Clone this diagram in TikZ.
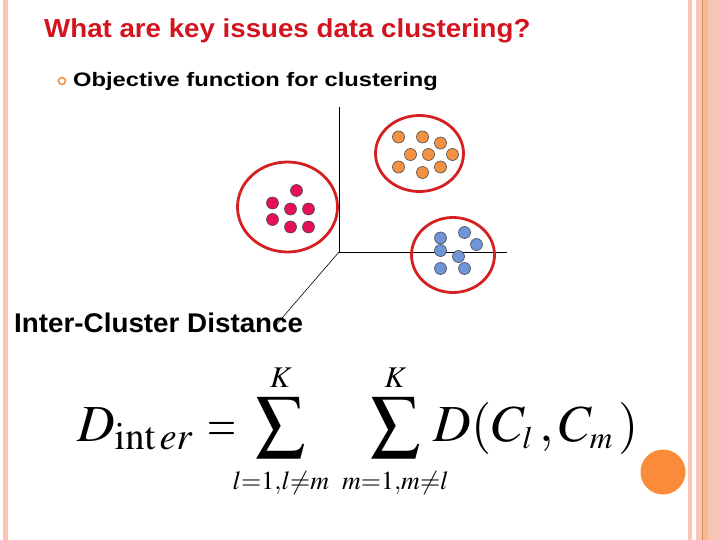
\documentclass[tikz,border=0pt]{standalone}
\usepackage{mathptmx}
\usepackage[no-math]{fontspec}
\newfontfamily\arial{Liberation Sans}
\usetikzlibrary{shapes.geometric}
\definecolor{titlered}{HTML}{D2141E}
\definecolor{ringred}{HTML}{D42020}
\definecolor{dotpink}{HTML}{E6105A}
\definecolor{dotorange}{HTML}{F39242}
\definecolor{dotblue}{HTML}{6F94D8}
\definecolor{salmon}{HTML}{F8C6B4}
\definecolor{salmondark}{HTML}{D88A68}
\definecolor{bigorange}{HTML}{F98B3A}
\newcommand{\bigsum}{\mathop{\vcenter{\hbox{\scalebox{1.36}{$\textstyle\sum$}}}}\limits}
\newcommand{\limtext}[3][26]{\makebox[#2]{\fontsize{#1}{#1}\selectfont$#3$}}
\newcommand{\narroweq}{\mathrel{\scalebox{0.72}[1]{$=$}}}
\begin{document}
\begin{tikzpicture}[
  x=1pt,
  y=-1pt,
  cluster/.style={
    ellipse,
    draw=ringred,
    line width=2.8pt,
    inner sep=0pt
  },
  dot/.style={
    circle,
    draw=black!70,
    line width=0.6pt,
    minimum size=12pt,
    inner sep=0pt
  },
  pinkdot/.style={dot,fill=dotpink},
  orangedot/.style={dot,fill=dotorange},
  bluedot/.style={dot,fill=dotblue},
  axis/.style={
    black,
    line width=0.8pt
  },
  label/.style={
    anchor=base west,
    inner sep=0pt
  }
  ]
  \useasboundingbox (0,0) rectangle (720,540);

  % slide frame
  \fill[salmon] (2.5,0) rectangle (7.5,540);
  \fill[salmon] (688,0) rectangle (692,540);
  \fill[salmon] (696,0) rectangle (720,540);
  \fill[salmon!80!orange] (703,0) rectangle (708,540);
  \draw[salmondark,line width=0.8pt] (702,0) -- (702,540);

  % texts
  \node (title) [label,text=titlered] at (44,38)
    {\scalebox{1.065}[1]{\arial\bfseries\fontsize{26}{30}\selectfont What are key issues data clustering?}};
  \node (bullet) [circle,draw=dotorange,line width=1.6pt,minimum size=7pt,inner sep=0pt] at (62,81) {};
  \node (objective) [label] at (73,87)
    {\scalebox{1.215}[1]{\arial\bfseries\fontsize{19.5}{23}\selectfont Objective function for clustering}};
  \node (inter-label) [label] at (14,332)
    {\scalebox{1.03}[1]{\arial\bfseries\fontsize{27}{31}\selectfont Inter-Cluster Distance}};

  % axes
  \coordinate (origin) at (339,252);
  \coordinate (y-end) at (339,107);
  \coordinate (x-end) at (507,252);
  \coordinate (z-end) at (276,325);
  \draw [axis] (origin) -- (y-end);
  \draw [axis] (origin) -- (x-end);
  \draw [axis,line width=0.6pt] (origin) -- (z-end);

  % clusters
  \node (pink-cluster) [cluster,minimum width=100,minimum height=90] at (287.5,207) {};
  \node (orange-cluster) [cluster,minimum width=88,minimum height=76] at (419.5,153.5) {};
  \node (blue-cluster) [cluster,minimum width=83,minimum height=75] at (453,255) {};

  \node (p1) [pinkdot] at (296.5,190.5) {};
  \node (p2) [pinkdot] at (272.5,203) {};
  \node (p3) [pinkdot] at (290.5,209) {};
  \node (p4) [pinkdot] at (308.5,209) {};
  \node (p5) [pinkdot] at (272.5,219.5) {};
  \node (p6) [pinkdot] at (290.5,227) {};
  \node (p7) [pinkdot] at (308.5,227) {};

  \node (o1) [orangedot] at (398.5,137) {};
  \node (o2) [orangedot] at (422.5,137) {};
  \node (o3) [orangedot] at (440.5,143) {};
  \node (o4) [orangedot] at (410.5,154.5) {};
  \node (o5) [orangedot] at (428.5,154.5) {};
  \node (o6) [orangedot] at (452.5,154.5) {};
  \node (o7) [orangedot] at (398.5,167) {};
  \node (o8) [orangedot] at (422.5,172.5) {};
  \node (o9) [orangedot] at (440.5,167) {};

  \node (b1) [bluedot] at (464.5,232.5) {};
  \node (b2) [bluedot] at (440.5,238) {};
  \node (b3) [bluedot] at (476.5,244.5) {};
  \node (b4) [bluedot] at (440.5,250.5) {};
  \node (b5) [bluedot] at (458.5,256.5) {};
  \node (b6) [bluedot] at (440.5,268.5) {};
  \node (b7) [bluedot] at (464.5,268.5) {};

  % formula
  \node (formula) [anchor=base west,inner sep=0pt] at (77,441) {\fontsize{52}{56}\selectfont$\displaystyle
    D_{\mathrm{int}\,er} \mkern1mu \narroweq \mkern-6mu
    \bigsum_{\limtext{100pt}{l{=}1{,}l{\neq}m}}^{\limtext[30]{0pt}{K}} \mkern2mu
    \bigsum_{\limtext{106pt}{m{=}1{,}m{\neq}l}}^{\limtext[30]{0pt}{K}} \mkern-7mu
    D(C_{\scriptscriptstyle l}\,,C_{\scriptscriptstyle m}\,)$};

  \node (deco-circle) [circle,fill=bigorange,minimum size=45pt,inner sep=0pt] at (663,472) {};
\end{tikzpicture}
\end{document}
